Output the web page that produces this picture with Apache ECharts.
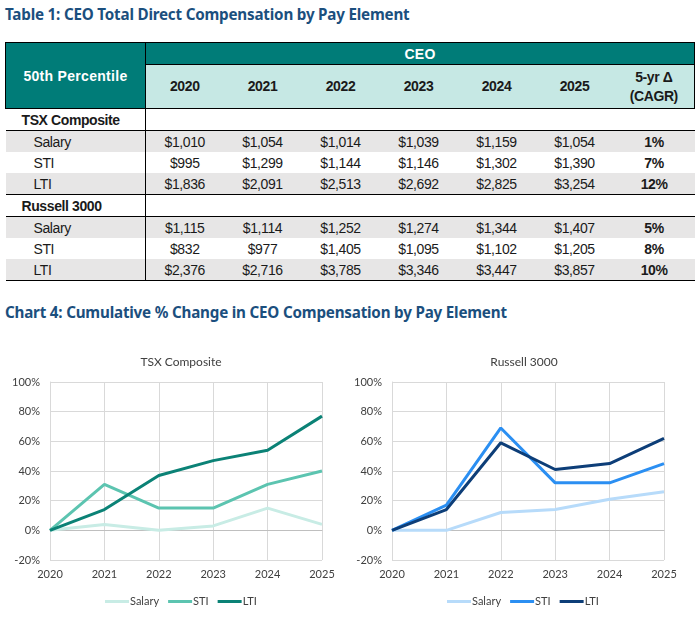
<!DOCTYPE html>
<html>
<head>
<meta charset="utf-8">
<title>CEO Compensation by Pay Element</title>
<script src="https://cdn.jsdelivr.net/npm/echarts@6.0.0/dist/echarts.min.js"></script>
<style>
  html, body { margin: 0; padding: 0; background: #fff; }
  body { width: 700px; height: 620px; position: relative; overflow: hidden; }
  .heading {
    position: absolute; left: 5px;
    font-family: "Noto Sans", sans-serif; font-weight: bold;
    font-size: 15.2px; color: #1B4F7E; letter-spacing: -0.2px;
  }
  #tbl {
    position: absolute; left: 5px; top: 42px; width: 689px;
    border-collapse: collapse; table-layout: fixed;
    font-family: "Liberation Sans", Arial, sans-serif;
    font-size: 14px; color: #1a1a1a; letter-spacing: -0.4px;
  }
  #tbl td { padding: 0; height: 21px; text-align: center; white-space: nowrap; }
  #tbl .h1 td { height: 21px; }
  #tbl .h2 td { height: 43px; }
  .teal { background: #007C78; color: #fff; font-weight: bold; letter-spacing: 0.3px; }
  .pale { background: #C6E8E4; font-weight: bold; line-height: 19px; }
  .grey td { background: #E7E6E6; }
  #tbl td.lbl { text-align: left; padding-left: 28px; }
  #tbl td.grp { text-align: left; padding-left: 16px; font-weight: bold; }
  #tbl td.pct { font-weight: bold; }
  #chart { position: absolute; left: 0; top: 330px; width: 700px; height: 290px; }
</style>
</head>
<body>
<div class="heading" style="top:4px">Table 1: CEO Total Direct Compensation by Pay Element</div>
<table id="tbl"></table>
<div class="heading" style="top:302px">Chart 4: Cumulative % Change in CEO Compensation by Pay Element</div>
<div id="chart"></div>

<script>
// table data
const years = ['2020', '2021', '2022', '2023', '2024', '2025'];
const payElements = ['Salary', 'STI', 'LTI'];
const tsxSalaryPay = ['$1,010', '$1,054', '$1,014', '$1,039', '$1,159', '$1,054'];
const tsxStiPay = ['$995', '$1,299', '$1,144', '$1,146', '$1,302', '$1,390'];
const tsxLtiPay = ['$1,836', '$2,091', '$2,513', '$2,692', '$2,825', '$3,254'];
const tsxCagr = ['1%', '7%', '12%'];
const rusSalaryPay = ['$1,115', '$1,114', '$1,252', '$1,274', '$1,344', '$1,407'];
const rusStiPay = ['$832', '$977', '$1,405', '$1,095', '$1,102', '$1,205'];
const rusLtiPay = ['$2,376', '$2,716', '$3,785', '$3,346', '$3,447', '$3,857'];
const rusCagr = ['5%', '8%', '10%'];

// chart data (cumulative % change vs 2020)
const tsxSalary = [0, 4, 0, 3, 15, 4];
const tsxSti = [0, 31, 15, 15, 31, 40];
const tsxLti = [0, 14, 37, 47, 54, 77];
const rusSalary = [0, 0, 12, 14, 21, 26];
const rusSti = [0, 17, 69, 32, 32, 45];
const rusLti = [0, 14, 59, 41, 45, 62];
const yTicks = [-20, 0, 20, 40, 60, 80, 100];

// ---- build the table ----
const B = '1.5px solid #000';
let html = '<colgroup><col style="width:140px">' +
  years.map(() => '<col style="width:78px">').join('') +
  '<col style="width:81px"></colgroup>';
html += `<tr class="h1"><td class="teal" rowspan="2" style="border:${B}">50th Percentile</td>` +
  `<td class="teal" colspan="7" style="border:${B}">CEO</td></tr>`;
html += '<tr class="h2">' + years.map(y => `<td class="pale" style="border-bottom:${B}">${y}</td>`).join('') +
  `<td class="pale" style="border-bottom:${B};border-right:${B}">5-yr &Delta;<br>(CAGR)</td></tr>`;

function group(name, rows, cagr) {
  let s = `<tr><td class="grp" style="border-right:${B};border-bottom:${B}">${name}</td>` +
    `<td colspan="7" style="border-bottom:${B}"></td></tr>`;
  rows.forEach((vals, i) => {
    const last = i === rows.length - 1 ? `border-bottom:${B};` : '';
    s += `<tr class="${i % 2 === 0 ? 'grey' : ''}">` +
      `<td class="lbl" style="${last}border-right:${B}">${payElements[i]}</td>` +
      vals.map(v => `<td style="${last}">${v}</td>`).join('') +
      `<td class="pct" style="${last}">${cagr[i]}</td></tr>`;
  });
  return s;
}
html += group('TSX Composite', [tsxSalaryPay, tsxStiPay, tsxLtiPay], tsxCagr);
html += group('Russell 3000', [rusSalaryPay, rusStiPay, rusLtiPay], rusCagr);
document.getElementById('tbl').innerHTML = html;

// ---- charts ----
const chart = echarts.init(document.getElementById('chart'));
const font = 'Lato, "Noto Sans", sans-serif';
const textColor = '#404040';
const gridLine = { show: true, lineStyle: { color: '#D9D9D9', width: 1 } };

function xAxis(gridIndex) {
  return {
    type: 'category', gridIndex, data: years, boundaryGap: false,
    axisLine: { lineStyle: { color: '#BFBFBF', width: 1 } },
    axisTick: { show: false },
    splitLine: gridLine,
    axisLabel: { color: textColor, fontSize: 11, fontFamily: font, margin: 9, interval: 0 }
  };
}
function yAxis(gridIndex) {
  return {
    type: 'value', gridIndex, min: yTicks[0], max: yTicks[yTicks.length - 1], interval: 20,
    axisLine: { show: true, lineStyle: { color: '#D9D9D9' } },
    axisTick: { show: false },
    splitLine: gridLine,
    axisLabel: { color: textColor, fontSize: 11, fontFamily: font, margin: 10, formatter: '{value}%' }
  };
}
function line(name, data, color, idx) {
  return {
    name, type: 'line', data, xAxisIndex: idx, yAxisIndex: idx,
    symbol: 'none', lineStyle: { color, width: 3 }, itemStyle: { color },
    emphasis: { disabled: true }
  };
}
function legend(left, names) {
  return {
    data: names, left, top: 261,
    icon: 'rect', itemWidth: 24, itemHeight: 3, itemGap: 9,
    textStyle: { color: textColor, fontSize: 11, fontFamily: font, padding: [0, 0, 0, -4] },
    formatter: n => n.trim(),
    selectedMode: false
  };
}

const tsxColors = ['#C8ECE5', '#5CC4B0', '#0B8276'];
const rusColors = ['#B7DBFA', '#2B8FF2', '#0D3E78'];

chart.setOption({
  animation: false,
  title: [
    { text: 'TSX Composite', left: 176, top: 21, textAlign: 'center',
      textStyle: { fontSize: 12, fontWeight: 'normal', color: textColor, fontFamily: font } },
    { text: 'Russell 3000', left: 519, top: 21, textAlign: 'center',
      textStyle: { fontSize: 12, fontWeight: 'normal', color: textColor, fontFamily: font } }
  ],
  grid: [
    { left: 50, right: 378, top: 52, bottom: 60 },
    { left: 392, right: 36, top: 52, bottom: 60 }
  ],
  // the Russell series carry a trailing space so the two legends stay separate
  legend: [
    legend(100, ['Salary', 'STI', 'LTI']),
    legend(442, ['Salary ', 'STI ', 'LTI '])
  ],
  xAxis: [xAxis(0), xAxis(1)],
  yAxis: [yAxis(0), yAxis(1)],
  series: [
    line('Salary', tsxSalary, tsxColors[0], 0),
    line('STI', tsxSti, tsxColors[1], 0),
    line('LTI', tsxLti, tsxColors[2], 0),
    line('Salary ', rusSalary, rusColors[0], 1),
    line('STI ', rusSti, rusColors[1], 1),
    line('LTI ', rusLti, rusColors[2], 1)
  ]
});

window.addEventListener('resize', () => chart.resize());
</script>
</body>
</html>
